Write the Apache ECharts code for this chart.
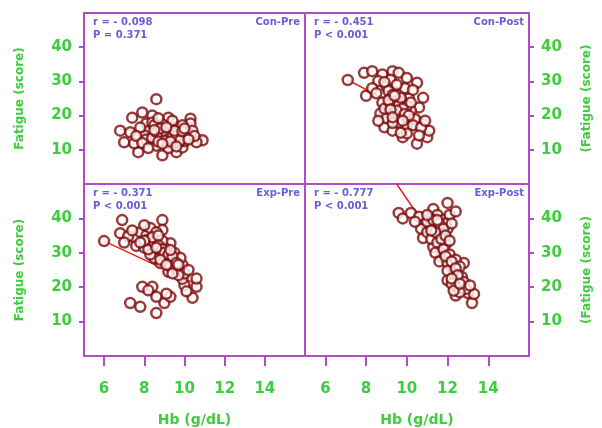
<!DOCTYPE html>
<html>
<head>
<meta charset="utf-8">
<script src="https://cdn.jsdelivr.net/npm/echarts@6.0.0/dist/echarts.min.js"></script>
<style>
  html, body { margin: 0; padding: 0; background: #fff; }
  #main { width: 602px; height: 428px; }
</style>
</head>
<body>
<div id="main"></div>
<script>
// Hb (g/dL) vs Fatigue (score), four groups

var panelNames = ['Con-Pre', 'Con-Post', 'Exp-Pre', 'Exp-Post'];
var rText = ['r = - 0.098', 'r = - 0.451', 'r = - 0.371', 'r = - 0.777'];
var pText = ['P = 0.371', 'P < 0.001', 'P < 0.001', 'P < 0.001'];

var xTicks = [6, 8, 10, 12, 14];
var yTicks = [10, 20, 30, 40];

var conPre = [
  [8.6,24.8],[6.8,15.6],[7.0,12.2],[7.4,19.4],[7.9,20.9],[7.7,9.3],[8.9,8.4],[9.2,19.4],[10.3,19.1],[10.3,17.7],
  [10.9,12.8],[10.6,12.2],[9.6,9.3],[9.9,10.7],[8.4,20.0],[8.1,17.7],[7.3,15.1],[7.5,11.9],[8.2,15.5],[8.5,14.0],
  [8.8,13.2],[9.0,15.8],[9.3,14.4],[9.5,13.0],[9.7,15.2],[8.7,16.8],[9.1,12.0],[9.4,11.5],[8.3,12.8],[8.0,14.2],
  [7.8,16.5],[9.8,14.0],[10.0,12.5],[10.2,14.6],[9.6,16.6],[8.9,17.5],[8.6,11.2],[9.2,10.5],[7.6,14.0],[8.4,18.0],
  [9.9,17.2],[10.4,15.6],[8.1,13.0],[9.0,13.8],[9.3,16.2],[8.8,15.0],[9.5,14.8],[10.1,13.5],[7.9,12.0],[8.5,17.2],
  [9.7,12.2],[10.5,14.0],[8.2,10.5],[9.4,18.5],[8.7,19.2],[8.4,13.5],[8.6,15.2],[8.9,14.2],[9.1,14.9],[9.2,13.2],
  [9.4,13.8],[9.6,14.0],[9.8,12.8],[9.0,12.6],[8.7,12.4],[9.3,12.4],[9.5,15.6],[8.8,16.2],[9.1,16.6],[9.9,15.4],
  [10.2,13.0],[8.5,15.8],[8.9,11.8],[9.6,11.0],[10.0,16.2]
];
var conPost = [
  [7.1,30.4],[7.9,32.5],[8.3,33.0],[8.8,32.0],[9.3,33.0],[9.6,32.5],[10.0,31.0],[10.5,29.6],[8.6,30.1],[8.0,25.8],
  [8.3,28.0],[10.8,25.2],[10.6,22.4],[10.1,25.0],[8.7,20.6],[8.9,16.6],[9.3,15.6],[9.8,13.7],[10.5,11.8],[11.0,13.7],
  [11.1,15.6],[10.0,16.9],[9.5,23.4],[9.0,28.5],[9.4,27.0],[9.2,25.0],[9.6,26.2],[9.8,24.0],[9.1,22.5],[9.4,21.0],
  [9.7,20.0],[10.2,21.5],[10.4,19.0],[9.0,19.2],[9.6,18.0],[10.3,17.2],[10.7,16.5],[8.8,23.8],[8.5,26.5],[9.9,28.0],
  [10.3,27.5],[9.2,30.5],[8.9,29.8],[9.5,29.0],[10.0,22.8],[8.6,18.5],[9.3,17.8],[10.0,14.8],[10.6,14.2],[9.7,15.0],
  [8.9,22.0],[9.5,24.8],[9.1,27.2],[10.9,18.5],[9.2,23.5],[9.4,24.2],[9.5,22.2],[9.3,26.0],[9.6,23.0],[9.7,25.2],
  [9.1,24.5],[9.8,22.0],[9.4,25.8],[9.5,21.5],[9.9,20.5],[9.2,21.8],[10.1,20.0],[9.8,18.5],[9.3,19.5],[10.2,23.8]
];
var expPre = [
  [6.0,33.4],[6.9,39.5],[8.9,39.5],[6.8,35.7],[8.9,36.6],[9.3,32.8],[9.9,26.5],[7.3,15.4],[7.8,14.3],[7.9,20.1],
  [8.6,12.5],[9.0,15.4],[9.3,17.2],[8.4,20.1],[9.1,18.1],[8.6,17.2],[8.2,19.1],[10.0,20.6],[10.6,20.1],[10.4,16.9],
  [10.1,18.8],[9.9,22.4],[7.5,34.5],[7.8,36.0],[8.1,35.0],[8.3,37.2],[8.6,34.0],[7.6,32.0],[8.0,31.5],[8.4,32.5],
  [8.7,30.5],[8.9,29.0],[9.1,28.0],[9.4,27.5],[9.6,25.5],[9.2,24.5],[8.8,27.0],[8.5,28.5],[9.5,30.0],[9.8,28.5],
  [10.0,24.0],[8.2,33.8],[7.2,34.8],[7.0,33.0],[9.0,31.5],[9.3,26.0],[9.7,23.5],[10.2,25.0],[8.6,36.0],[8.0,38.0],
  [8.3,29.5],[8.9,33.5],[9.4,24.0],[10.6,22.5],[8.2,31.0],[8.5,33.0],[8.7,32.2],[8.9,31.0],[9.0,30.0],[9.2,29.5],
  [8.4,34.5],[8.6,31.5],[8.8,28.0],[9.4,29.0],[9.6,27.0],[9.1,26.5],[8.0,33.5],[7.8,33.0],[9.3,30.8],[9.7,26.5],
  [8.7,35.0],[7.4,36.5]
];
var expPost = [
  [9.6,41.6],[9.8,40.0],[10.2,41.6],[12.0,44.5],[11.3,42.7],[10.8,34.3],[11.3,31.7],[11.7,28.8],[12.2,25.9],[12.8,27.0],
  [12.0,22.0],[12.5,20.0],[13.0,18.3],[13.2,15.4],[13.3,18.0],[12.4,17.6],[10.6,40.5],[10.9,38.5],[11.1,40.0],[11.5,41.0],
  [11.8,39.5],[12.1,41.0],[10.7,37.0],[11.0,36.0],[11.4,37.5],[11.6,35.5],[12.0,37.0],[11.2,34.0],[11.5,33.0],[11.9,32.5],
  [11.4,30.0],[11.8,31.0],[12.1,29.5],[11.6,27.5],[12.0,27.0],[12.4,28.0],[12.6,26.0],[12.3,24.0],[12.0,24.8],[12.7,23.0],
  [12.2,21.0],[12.8,21.5],[12.9,19.5],[12.6,18.5],[13.1,20.5],[12.3,19.0],[11.9,38.5],[10.4,39.0],[11.2,38.0],[12.4,42.0],
  [11.0,39.0],[11.3,39.5],[11.6,38.5],[11.8,37.0],[11.4,36.0],[11.2,36.5],[11.7,34.0],[11.9,35.0],[11.5,39.5],[11.0,41.0],
  [12.2,38.5],[12.1,33.5],[11.9,29.0],[12.2,27.5],[12.4,25.5],[12.5,23.5],[12.2,22.5],[12.6,21.0]
];

// fitted lines, end points
var conPreFit = [[6.8,16.0],[11.1,13.5]];
var conPostFit = [[7.1,30.4],[11.1,18.0]];
var expPreFit = [[6.0,33.4],[10.7,20.6]];
var expPostFit = [[9.5,50.0],[13.4,16.3]];

var scatterData = [conPre, conPost, expPre, expPost];
var fitData = [conPreFit, conPostFit, expPreFit, expPostFit];

var frameColor = '#b04cc8';
var green = '#3fcc3f';
var noteColor = '#6b5bd6';
var font = 'DejaVu Sans';

var myChart = echarts.init(document.getElementById('main'), null, { renderer: 'canvas' });

var grids = [
  { left: 84, top: 13, width: 221, height: 171 },
  { left: 305, top: 13, width: 224, height: 171 },
  { left: 84, top: 184, width: 221, height: 172 },
  { left: 305, top: 184, width: 224, height: 172 }
];
grids.forEach(function (g) {
  g.show = true;
  g.borderColor = frameColor;
  g.borderWidth = 2;
  g.backgroundColor = '#fff';
  g.outerBoundsMode = 'none';
});

var xAxes = [], yAxes = [], series = [], graphics = [];
for (var i = 0; i < 4; i++) {
  var bottom = i >= 2;
  var right = i % 2 === 1;
  xAxes.push({
    gridIndex: i, type: 'value', min: 5, max: 16,
    axisLine: { show: false },
    splitLine: { show: false },
    axisTick: { show: bottom, customValues: xTicks, length: 10, lineStyle: { color: frameColor, width: 2 } },
    axisLabel: { show: bottom, customValues: xTicks, margin: 26, color: green, fontSize: 15, fontWeight: 'bold', fontFamily: font },
    name: bottom ? 'Hb (g/dL)' : '', nameLocation: 'middle', nameGap: 57,
    nameTextStyle: { color: green, fontSize: 14, fontWeight: 'bold', fontFamily: font }
  });
  yAxes.push({
    gridIndex: i, type: 'value', min: 0, max: 50,
    position: right ? 'right' : 'left',
    axisLine: { show: false },
    splitLine: { show: false },
    axisTick: { show: true, customValues: yTicks, length: 5, lineStyle: { color: frameColor, width: 2 } },
    axisLabel: { customValues: yTicks, margin: 12, color: green, fontSize: 15, fontWeight: 'bold', fontFamily: font },
    name: right ? '(Fatigue (score)' : 'Fatigue (score)',
    nameLocation: 'middle', nameRotate: 90, nameGap: right ? 52 : 58,
    nameTextStyle: { color: green, fontSize: 12, fontWeight: 'bold', fontFamily: font }
  });
  series.push({
    type: 'line', xAxisIndex: i, yAxisIndex: i, data: fitData[i],
    symbol: 'none', clip: true, z: 3,
    lineStyle: { color: '#e02424', width: 1.5 }
  });
  series.push({
    type: 'scatter', xAxisIndex: i, yAxisIndex: i, data: scatterData[i],
    symbol: 'circle', symbolSize: 10, z: 4,
    itemStyle: { color: '#ffffff', borderColor: '#7e0a0a', borderWidth: 2.5 }
  });

  var g = grids[i];
  var noteStyle = { fill: noteColor, fontSize: 10, fontWeight: 'bold', fontFamily: font };
  graphics.push({ type: 'text', left: g.left + 9, top: g.top + 4,
    style: Object.assign({ text: rText[i] }, noteStyle) });
  graphics.push({ type: 'text', left: g.left + 9, top: g.top + 17,
    style: Object.assign({ text: pText[i] }, noteStyle) });
  graphics.push({ type: 'text', right: 602 - (g.left + g.width) + 5, top: g.top + 4,
    style: Object.assign({ text: panelNames[i] }, noteStyle) });
}

var option = {
  backgroundColor: '#fff',
  animation: false,
  grid: grids,
  xAxis: xAxes,
  yAxis: yAxes,
  series: series,
  graphic: graphics
};
myChart.setOption(option);
</script>
</body>
</html>
